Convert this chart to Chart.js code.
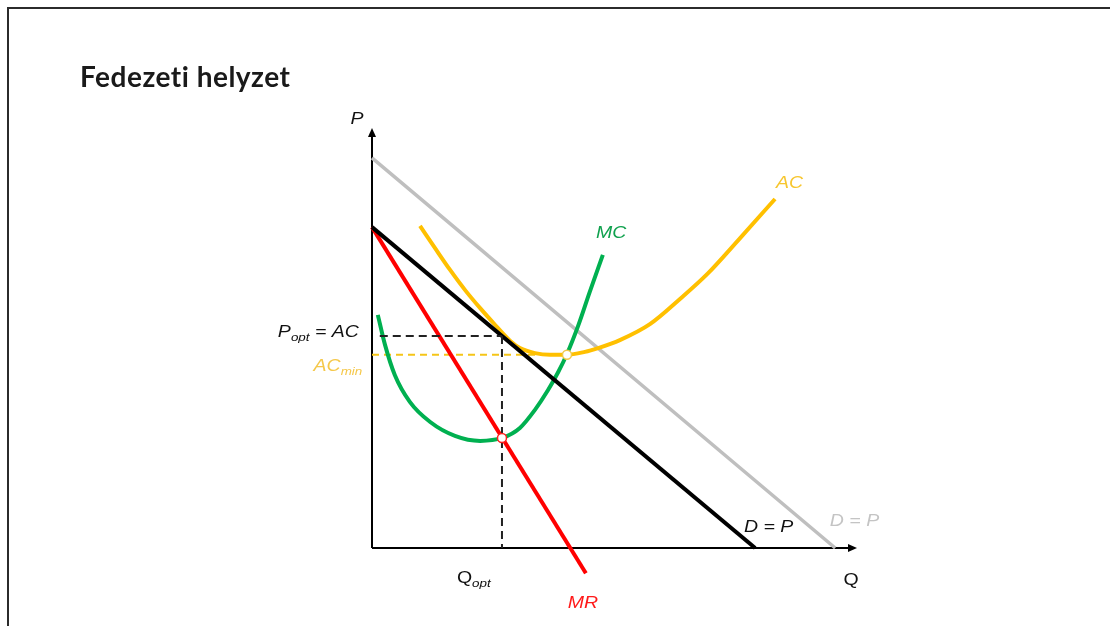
<!DOCTYPE html>
<html>
<head>
<meta charset="utf-8">
<title>Fedezeti helyzet</title>
<script src="https://cdn.jsdelivr.net/npm/chart.js@4.4.1/dist/chart.umd.min.js"></script>
<style>
    body { margin: 0; background: #fff; }
    #wrap { position: relative; width: 1110px; height: 626px; overflow: hidden; }
    #frame { position: absolute; left: 7px; top: 7px; width: 1200px; height: 700px;
             border-left: 2px solid #2b2b2b; border-top: 2px solid #2b2b2b; }
    #myChart { position: absolute; left: 0; top: 0; }
</style>
</head>
<body>
<div id="wrap">
    <div id="frame"></div>
    <canvas id="myChart" width="1110" height="626"></canvas>
</div>
<script>
// curves, Q on x, P on y
const shiftedDemandQ = [0, 9.55];
const shiftedDemandP = [9.29, 0];
const demandQ = [0, 7.90];
const demandP = [7.64, 0];
const mrQ = [0, 4.41];
const mrP = [7.64, -0.60];
const mcQ = [0.12, 0.27, 0.47, 0.78, 1.20, 1.71, 2.23, 2.68, 3.05, 3.36, 3.63, 3.84, 4.02, 4.25, 4.49, 4.76];
const mcP = [5.55, 4.83, 4.12, 3.48, 3.00, 2.67, 2.55, 2.62, 2.86, 3.29, 3.76, 4.19, 4.62, 5.29, 6.10, 6.98];
const acQ = [0.99, 1.30, 1.61, 1.92, 2.23, 2.54, 2.85, 3.05, 3.36, 3.67, 4.02, 4.39, 4.66, 5.11, 5.73, 6.35, 6.91, 7.59, 8.31];
const acP = [7.67, 7.14, 6.62, 6.14, 5.71, 5.31, 4.93, 4.76, 4.64, 4.60, 4.60, 4.67, 4.76, 4.95, 5.33, 5.93, 6.52, 7.38, 8.31];

// key points
const qOpt = 2.68;
const pOpt = 5.05;
const pOptLineStart = 0.16;
const mrMcP = 2.62;
const qAcMin = 4.02;
const acMin = 4.60;

const axisMaxQ = 10;
const axisMaxP = 10;

function zip(xs, ys) {
    return xs.map((x, i) => ({ x: x, y: ys[i] }));
}

const labelFont = '"Liberation Sans", Arial, sans-serif';

// draws "P", "opt" (subscript), " = AC" etc. as one run, stretched a bit wide
function drawRun(ctx, parts, x, y, color, align) {
    const sx = 1.22;
    ctx.save();
    ctx.fillStyle = color;
    ctx.textAlign = 'left';
    ctx.textBaseline = 'alphabetic';
    var w = 0;
    parts.forEach(p => {
        ctx.font = (p.upright ? '' : 'italic ') + (p.sub ? '11px ' : '16px ') + labelFont;
        w += ctx.measureText(p.t).width;
    });
    var start = x;
    if (align === 'right') start = x - w * sx;
    if (align === 'center') start = x - w * sx / 2;
    ctx.translate(start, y);
    ctx.scale(sx, 1);
    var cx = 0;
    parts.forEach(p => {
        ctx.font = (p.upright ? '' : 'italic ') + (p.sub ? '11px ' : '16px ') + labelFont;
        ctx.fillText(p.t, cx, p.sub ? 4 : 0);
        cx += ctx.measureText(p.t).width;
    });
    ctx.restore();
}

const annotations = {
    id: 'annotations',
    afterDraw(chart) {
        const ctx = chart.ctx;
        const xs = chart.scales.x;
        const ys = chart.scales.y;
        const px = v => xs.getPixelForValue(v);
        const py = v => ys.getPixelForValue(v);

        // title (letter spacing also keeps the "ti" ligature away)
        ctx.save();
        ctx.fillStyle = '#1a1a1a';
        ctx.font = 'bold 28px Lato, "Open Sans", sans-serif';
        ctx.letterSpacing = '0.5px';
        ctx.textAlign = 'left';
        ctx.textBaseline = 'alphabetic';
        ctx.fillText('Fedezeti helyzet', 80, 87);
        ctx.restore();

        // arrow heads on the axes
        ctx.save();
        ctx.fillStyle = '#000';
        var ox = px(0), oy = py(0);
        var tx = px(axisMaxQ), ty = py(axisMaxP);
        ctx.beginPath();
        ctx.moveTo(tx, oy);
        ctx.lineTo(tx - 9, oy - 4);
        ctx.lineTo(tx - 9, oy + 4);
        ctx.closePath();
        ctx.fill();
        ctx.beginPath();
        ctx.moveTo(ox, ty);
        ctx.lineTo(ox - 4, ty + 9);
        ctx.lineTo(ox + 4, ty + 9);
        ctx.closePath();
        ctx.fill();
        ctx.restore();

        // axis and curve labels
        drawRun(ctx, [{ t: 'P' }], px(-0.31), py(10.10), '#111', 'center');
        drawRun(ctx, [{ t: 'Q', upright: true }], px(9.88), py(-0.88), '#111', 'center');
        drawRun(ctx, [{ t: 'Q', upright: true }, { t: 'opt', sub: true }], px(1.75), py(-0.83), '#111', 'left');
        drawRun(ctx, [{ t: 'MR' }], px(4.35), py(-1.43), '#ff1a1a', 'center');
        drawRun(ctx, [{ t: 'D = P' }], px(7.67), py(0.38), '#111', 'left');
        drawRun(ctx, [{ t: 'D = P' }], px(9.44), py(0.52), '#c4c4c4', 'left');
        drawRun(ctx, [{ t: 'AC' }], px(8.33), py(8.57), '#f7c62f', 'left');
        drawRun(ctx, [{ t: 'MC' }], px(4.62), py(7.38), '#10a14e', 'left');
        drawRun(ctx, [{ t: 'P' }, { t: 'opt', sub: true }, { t: ' = AC' }], px(-0.27), py(5.02), '#111', 'right');
        drawRun(ctx, [{ t: 'AC' }, { t: 'min', sub: true }], px(-0.20), py(4.22), '#f5c84a', 'right');
    }
};

function lineSet(data, color, width, order, extra) {
    return Object.assign({
        data: data,
        showLine: true,
        borderColor: color,
        borderWidth: width,
        pointRadius: 0,
        fill: false,
        clip: false,
        order: order
    }, extra || {});
}

function createChart() {
    var ctx = document.getElementById('myChart').getContext('2d');
    return new Chart(ctx, {
        type: 'scatter',
        data: {
            datasets: [
                // equilibrium points
                {
                    data: [{ x: qOpt, y: mrMcP }],
                    pointRadius: 4.5,
                    pointBackgroundColor: '#fff',
                    pointBorderColor: '#ff2020',
                    pointBorderWidth: 1.5,
                    clip: false,
                    order: 0
                },
                {
                    data: [{ x: qAcMin, y: acMin }],
                    pointRadius: 4.5,
                    pointBackgroundColor: '#fff',
                    pointBorderColor: '#f2c94c',
                    pointBorderWidth: 1.5,
                    clip: false,
                    order: 0
                },
                lineSet([{ x: pOptLineStart, y: pOpt }, { x: qOpt, y: pOpt }], '#222', 2, 2, { borderDash: [8, 5] }),
                lineSet([{ x: qOpt, y: pOpt }, { x: qOpt, y: 0 }], '#222', 2, 2, { borderDash: [8, 5] }),
                lineSet([{ x: 0, y: acMin }, { x: qAcMin, y: acMin }], '#f5c518', 2, 5, { borderDash: [7, 5] }),
                lineSet(zip(demandQ, demandP), '#000', 4, 3),
                lineSet(zip(mrQ, mrP), '#ff0000', 4, 4),
                lineSet(zip(mcQ, mcP), '#00b050', 4, 4, { cubicInterpolationMode: 'monotone' }),
                lineSet(zip(acQ, acP), '#ffc000', 4, 4, { cubicInterpolationMode: 'monotone' }),
                lineSet(zip(shiftedDemandQ, shiftedDemandP), '#bfbfbf', 3.5, 6),
                // axes
                lineSet([{ x: 0, y: 0 }, { x: axisMaxQ - 0.1, y: 0 }], '#000', 2, 7),
                lineSet([{ x: 0, y: 0 }, { x: 0, y: axisMaxP - 0.1 }], '#000', 2, 7)
            ]
        },
        options: {
            responsive: false,
            animation: false,
            devicePixelRatio: 1,
            events: [],
            layout: { padding: { left: 372, right: 253, top: 128, bottom: 36 } },
            scales: {
                x: { type: 'linear', min: 0, max: axisMaxQ, display: false },
                y: { type: 'linear', min: -1, max: axisMaxP, display: false }
            },
            plugins: {
                legend: { display: false },
                tooltip: { enabled: false },
                title: { display: false }
            }
        },
        plugins: [annotations]
    });
}

var myChart = createChart();
</script>
</body>
</html>
